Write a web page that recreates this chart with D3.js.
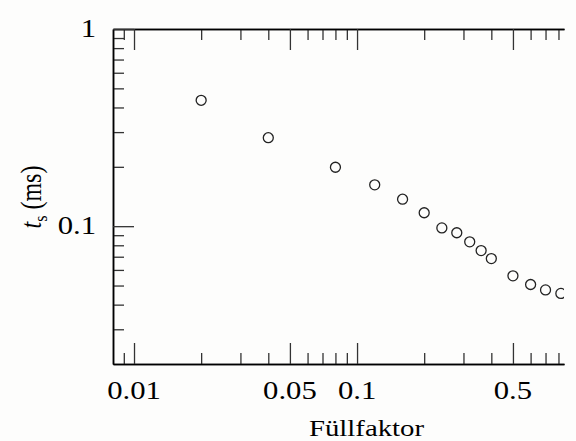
<!DOCTYPE html>
<html>
<head>
<meta charset="utf-8">
<script src="https://cdn.jsdelivr.net/npm/d3@7"></script>
<style>
  html, body { margin: 0; padding: 0; background: #fdfdfc; }
  svg { display: block; }
  text { font-family: "Liberation Serif", "DejaVu Serif", serif; fill: #000; }
</style>
</head>
<body>
<svg id="chart" width="576" height="441"></svg>
<script>
// ---- data ----
const fillFactor = [0.02, 0.04, 0.08, 0.12, 0.16, 0.20, 0.24, 0.28, 0.32, 0.36, 0.40, 0.50, 0.60, 0.70, 0.82];
const tsMs       = [0.435, 0.281, 0.199, 0.162, 0.137, 0.117, 0.098, 0.0926, 0.0833, 0.0752, 0.0685, 0.056, 0.0506, 0.0475, 0.0456];
const xMajorTicks = [0.01, 0.05, 0.1, 0.5];
const xTickLabels = ["0.01", "0.05", "0.1", "0.5"];
const xMinorTicks = [0.009, 0.02, 0.03, 0.04, 0.06, 0.07, 0.08, 0.09, 0.2, 0.3, 0.4, 0.6, 0.7, 0.8];
const yMajorTicks = [0.1, 1];
const yTickLabels = ["0.1", "1"];
const yMinorTicks = [0.03, 0.04, 0.05, 0.06, 0.07, 0.08, 0.09, 0.2, 0.3, 0.4, 0.5, 0.6, 0.7, 0.8, 0.9];
const xTitle = "Füllfaktor";

// ---- layout ----
const L = 113, R = 564, T = 29, B = 364;
const svg = d3.select("#chart");
svg.append("rect").attr("width", 576).attr("height", 441).attr("fill", "#fdfdfc");

const x = d3.scaleLog().domain([0.00805, 0.847]).range([L, R]);
const y = d3.scaleLog().domain([0.02, 1]).range([B, T]);

const major = 21, minor = 11;
const tickColor = "#333";

function styleAxis(g) {
  g.selectAll(".domain").attr("stroke", "#000").attr("stroke-width", 1.5);
  g.selectAll(".tick line").attr("stroke", tickColor).attr("stroke-width", 1.3);
  g.selectAll(".tick text").remove();
}

// bottom axis
svg.append("g").attr("transform", `translate(0,${B})`)
  .call(d3.axisBottom(x).tickValues(xMinorTicks).tickSizeInner(-minor).tickSizeOuter(0).tickFormat(""))
  .call(styleAxis);
svg.append("g").attr("transform", `translate(0,${B})`)
  .call(d3.axisBottom(x).tickValues(xMajorTicks).tickSizeInner(-major).tickSizeOuter(0).tickFormat(""))
  .call(styleAxis);
// top axis
svg.append("g").attr("transform", `translate(0,${T})`)
  .call(d3.axisTop(x).tickValues(xMinorTicks).tickSizeInner(-minor).tickSizeOuter(0).tickFormat(""))
  .call(styleAxis);
svg.append("g").attr("transform", `translate(0,${T})`)
  .call(d3.axisTop(x).tickValues(xMajorTicks).tickSizeInner(-major).tickSizeOuter(0).tickFormat(""))
  .call(styleAxis);
// left axis
svg.append("g").attr("transform", `translate(${L},0)`)
  .call(d3.axisLeft(y).tickValues(yMinorTicks).tickSizeInner(-minor).tickSizeOuter(0).tickFormat(""))
  .call(styleAxis);
svg.append("g").attr("transform", `translate(${L},0)`)
  .call(d3.axisLeft(y).tickValues(yMajorTicks).tickSizeInner(-major).tickSizeOuter(0).tickFormat(""))
  .call(styleAxis);

// tick labels
svg.append("g").selectAll("text").data(xMajorTicks).join("text")
  .attr("transform", d => `translate(${x(d)},399) scale(1.18,1)`)
  .attr("text-anchor", "middle")
  .attr("font-size", 26)
  .text((d, i) => xTickLabels[i]);

svg.append("g").selectAll("text").data(yMajorTicks).join("text")
  .attr("transform", d => `translate(96,${y(d) + 7.5}) scale(1.18,1)`)
  .attr("text-anchor", "end")
  .attr("font-size", 26)
  .text((d, i) => yTickLabels[i]);

// axis titles
svg.append("text")
  .attr("transform", "translate(366.5,435.5) scale(1.2,1)")
  .attr("text-anchor", "middle")
  .attr("font-size", 24)
  .text(xTitle);

const yt = svg.append("text")
  .attr("transform", "translate(41,197) rotate(-90) scale(1,1.2)")
  .attr("text-anchor", "middle")
  .attr("font-size", 24);
yt.append("tspan").attr("font-style", "italic").text("t");
yt.append("tspan").attr("font-size", 16).attr("dy", 5).text("s");
yt.append("tspan").attr("dy", -5).text("\u00a0(ms)");

// points
svg.append("clipPath").attr("id", "plotclip")
  .append("rect").attr("x", L).attr("y", T).attr("width", R - L).attr("height", B - T);

svg.append("g").attr("clip-path", "url(#plotclip)")
  .selectAll("circle").data(fillFactor).join("circle")
  .attr("cx", d => x(d))
  .attr("cy", (d, i) => y(tsMs[i]))
  .attr("r", 5)
  .attr("fill", "none")
  .attr("stroke", "#222")
  .attr("stroke-width", 1.3);
</script>
</body>
</html>
